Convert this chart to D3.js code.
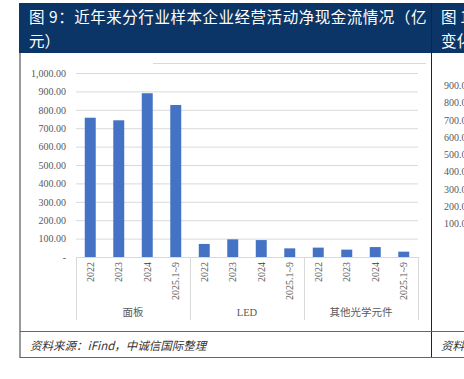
<!DOCTYPE html>
<html><head><meta charset="utf-8">
<script src="https://cdn.jsdelivr.net/npm/d3@7"></script>
<style>body{margin:0;background:#fff;}svg{display:block;}</style>
</head><body>
<svg id="c" width="464" height="379"></svg>
<script>
const groups = ["面板", "LED", "其他光学元件"];
const periods = ["2022", "2023", "2024", "2025.1~9"];
const panelValues = [757, 743, 890, 826];
const ledValues = [71, 96, 92, 47];
const otherValues = [51, 40, 54, 29];
const yTicks = [0, 100, 200, 300, 400, 500, 600, 700, 800, 900, 1000];
const rightTicks = ["900.0", "800.0", "700.0", "600.0", "500.0", "400.0", "300.0", "200.0", "100.0"];

const data = [];
[panelValues, ledValues, otherValues].forEach((arr, gi) => arr.forEach((v, pi) => data.push({g: groups[gi], p: periods[pi], v, key: gi + "-" + pi})));

const svg = d3.select("#c");
const navy = "#0b3567";
const serif = "'Noto Sans CJK SC', 'DejaVu Serif', serif";

// header
svg.append("rect").attr("x", 19).attr("y", 3).attr("width", 445).attr("height", 50).attr("fill", navy);
svg.append("line").attr("x1", 431.5).attr("x2", 431.5).attr("y1", 3).attr("y2", 358).attr("stroke", "#222").attr("stroke-width", 1);
svg.append("text").attr("x", 29).attr("y", 23).attr("fill", "#fff").attr("font-size", 15.5).attr("font-family", serif).attr("letter-spacing", 0.55)
  .attr("textLength", 398).attr("lengthAdjust", "spacing")
  .text("图 9：近年来分行业样本企业经营活动净现金流情况（亿");
svg.append("text").attr("x", 29).attr("y", 47).attr("fill", "#fff").attr("font-size", 15.5).attr("font-family", serif).text("元）");
svg.append("text").attr("x", 441).attr("y", 23).attr("fill", "#fff").attr("font-size", 15.5).attr("font-family", serif).text("图 1");
svg.append("text").attr("x", 441).attr("y", 47).attr("fill", "#fff").attr("font-size", 15.5).attr("font-family", serif).text("变化");

// frame
svg.append("line").attr("x1", 20).attr("x2", 20).attr("y1", 53).attr("y2", 358).attr("stroke", "#555").attr("stroke-width", 1.2);
svg.append("line").attr("x1", 20).attr("x2", 464).attr("y1", 331.5).attr("y2", 331.5).attr("stroke", "#666").attr("stroke-width", 1);
svg.append("line").attr("x1", 20).attr("x2", 464).attr("y1", 357.5).attr("y2", 357.5).attr("stroke", "#666").attr("stroke-width", 1.2);
svg.append("text").attr("x", 30).attr("y", 350).attr("font-size", 11.5).attr("font-style", "italic").attr("fill", "#333").attr("font-family", serif)
  .text("资料来源：iFind，中诚信国际整理");
svg.append("text").attr("x", 441).attr("y", 350).attr("font-size", 11.5).attr("font-style", "italic").attr("fill", "#333").attr("font-family", serif).text("资料");

// top light line
svg.append("line").attr("x1", 153).attr("x2", 426).attr("y1", 63.5).attr("y2", 63.5).attr("stroke", "#d9d9d9");

// scales
const x0 = 76, x1 = 418;
const y = d3.scaleLinear().domain([0, 1000]).range([257, 73]);
const x = d3.scaleBand().domain(data.map(d => d.key)).range([x0, x1]).paddingInner(0.615).paddingOuter(0.3075);
const gx = d3.scaleBand().domain(groups).range([x0, x1]);

// grid
const yAxis = d3.axisLeft(y).tickValues(yTicks).tickSize(-(x1 - x0)).tickFormat(d => d === 0 ? "-" : d3.format(",.2f")(d));
const ga = svg.append("g").attr("transform", `translate(${x0},0)`).call(yAxis);
ga.select(".domain").remove();
ga.selectAll(".tick line").attr("stroke", "#d9d9d9").attr("stroke-width", 1);
ga.selectAll(".tick text").attr("x", -10).attr("fill", "#595959").attr("font-size", 10).attr("font-family", "'Liberation Serif', 'DejaVu Serif', serif");

// bars
svg.append("g").selectAll("rect").data(data).join("rect")
  .attr("x", d => x(d.key)).attr("width", x.bandwidth())
  .attr("y", d => y(d.v)).attr("height", d => y(0) - y(d.v)).attr("fill", "#4472c4");

// x axis line
svg.append("line").attr("x1", x0).attr("x2", x1).attr("y1", y(0) + 0.5).attr("y2", y(0) + 0.5).attr("stroke", "#d9d9d9");
// group separators
svg.append("g").selectAll("line").data([x0, ...groups.map(g => gx(g) + gx.bandwidth())]).join("line")
  .attr("x1", d => d + 0.5).attr("x2", d => d + 0.5).attr("y1", y(0)).attr("y2", 320).attr("stroke", "#d9d9d9");

// period labels
svg.append("g").selectAll("text").data(data).join("text")
  .attr("transform", d => `translate(${x(d.key) + x.bandwidth() / 2 + 3.5},262) rotate(-90)`)
  .attr("text-anchor", "end").attr("font-size", 10).attr("fill", "#595959")
  .attr("font-family", "'Liberation Serif', 'DejaVu Serif', serif")
  .text(d => d.p);
// group labels
svg.append("g").selectAll("text").data(groups).join("text")
  .attr("x", d => gx(d) + gx.bandwidth() / 2).attr("y", 316).attr("text-anchor", "middle")
  .attr("font-size", 10.5).attr("fill", "#595959").attr("font-family", "'Liberation Serif', 'Noto Sans CJK SC', serif")
  .text(d => d);

// right panel partial axis
svg.append("g").selectAll("text").data(rightTicks).join("text")
  .attr("x", 444).attr("y", (d, i) => 89 + i * 17.25).attr("font-size", 10).attr("fill", "#595959")
  .attr("font-family", "'Liberation Serif', 'DejaVu Serif', serif").text(d => d);
</script>
</body></html>
